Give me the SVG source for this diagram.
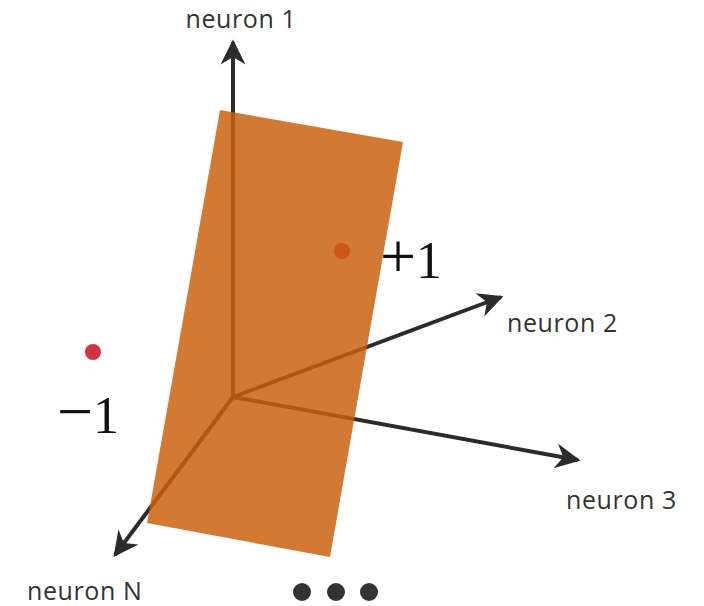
<svg xmlns="http://www.w3.org/2000/svg" width="704" height="606" viewBox="0 0 704 606">
<style>
.axis{stroke:#2b2b2b;stroke-width:4;fill:none}
.lbl{font-family:"Open Sans","DejaVu Sans",sans-serif;font-size:25px;fill:#333;letter-spacing:0.6px}
.num{font-family:"Liberation Serif","DejaVu Serif",serif;font-size:52px;fill:#111}
.sign{font-size:64px}
</style>
<defs>
<marker id="ah" markerUnits="userSpaceOnUse" markerWidth="30" markerHeight="30" viewBox="-20 -12 24 24" refX="0" refY="0" orient="auto">
<path d="M2,0 L-18,-10 L-12,0 L-18,10 Z" fill="#2b2b2b"/>
</marker>
</defs>
<g id="connectors">
<line class="axis" x1="233" y1="397" x2="233" y2="42" marker-end="url(#ah)"/>
<line class="axis" x1="233" y1="397" x2="501" y2="297" marker-end="url(#ah)"/>
<line class="axis" x1="233" y1="397" x2="578" y2="460" marker-end="url(#ah)"/>
<line class="axis" x1="233" y1="397" x2="115" y2="555" marker-end="url(#ah)"/>
</g>
<g id="point-plus">
<circle cx="342" cy="251" r="8" fill="#d0353f"/>
</g>
<g id="point-minus">
<circle cx="93" cy="352" r="8" fill="#d0353f"/>
</g>
<g id="plane">
<polygon points="220,110 403,142 330,557 147,523" fill="#c9610c" fill-opacity="0.84"/>
</g>
<g id="label-neuron1"><text class="lbl" x="241" y="28" text-anchor="middle">neuron 1</text></g>
<g id="label-neuron2"><text class="lbl" x="507" y="332">neuron 2</text></g>
<g id="label-neuron3"><text class="lbl" x="566" y="509">neuron 3</text></g>
<g id="label-neuronN"><text class="lbl" x="27" y="600">neuron N</text></g>
<g id="label-plus"><text class="num" x="380" y="278"><tspan class="sign">+</tspan>1</text></g>
<g id="label-minus"><text class="num" x="57" y="433"><tspan class="sign">−</tspan>1</text></g>
<g id="ellipsis">
<circle cx="302" cy="592" r="9" fill="#333"/>
<circle cx="336" cy="592" r="9" fill="#333"/>
<circle cx="369" cy="592" r="9" fill="#333"/>
</g>
</svg>
